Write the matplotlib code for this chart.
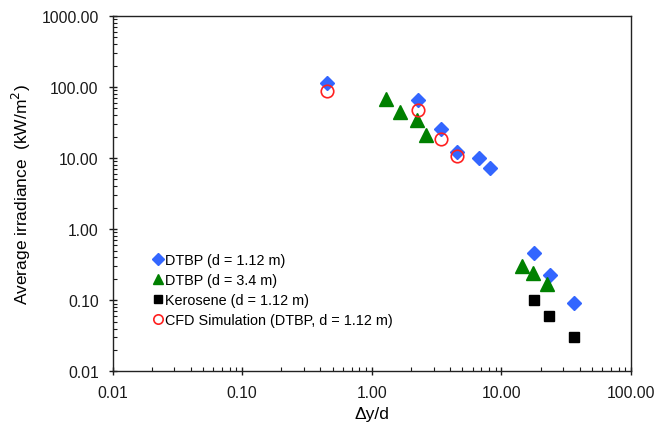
import matplotlib
matplotlib.use("Agg")
import matplotlib.pyplot as plt
from matplotlib.ticker import FixedLocator, FixedFormatter, LogLocator, NullFormatter

plt.rcParams['font.family'] = ['Liberation Sans', 'DejaVu Sans']

# Data
dtbp112_x = [0.45, 2.25, 3.43, 4.54, 6.73, 8.09, 17.8, 23.6, 36.1]
dtbp112_y = [115, 66, 25.6, 12.0, 10.0, 7.3, 0.46, 0.223, 0.091]

dtbp34_x = [1.29, 1.66, 2.24, 2.61, 14.4, 17.4, 22.4]
dtbp34_y = [68, 44, 34.7, 21.1, 0.30, 0.243, 0.17]

kero_x = [17.8, 23.4, 36.1]
kero_y = [0.10, 0.06, 0.030]

cfd_x = [0.447, 2.25, 3.4, 4.54]
cfd_y = [88.5, 47.3, 18.5, 10.6]

xticks = [0.01, 0.1, 1, 10, 100]
xticklabels = ["0.01", "0.10", "1.00", "10.00", "100.00"]
yticks = [0.01, 0.1, 1, 10, 100, 1000]
yticklabels = ["0.01", "0.10", "1.00", "10.00", "100.00", "1000.00"]

fig = plt.figure(figsize=(6.7, 4.31), dpi=100)
ax = fig.add_axes([0.168, 0.136, 0.774, 0.825])

ax.plot(dtbp112_x, dtbp112_y, linestyle='none', marker='D', markersize=7.5,
        color='#3366FF', markeredgecolor='#3366FF', label='DTBP (d = 1.12 m)', zorder=3)
ax.plot(dtbp34_x, dtbp34_y, linestyle='none', marker='^', markersize=10,
        color='#008000', markeredgecolor='#008000', label='DTBP (d = 3.4 m)', zorder=3)
ax.plot(kero_x, kero_y, linestyle='none', marker='s', markersize=7.5,
        color='black', label='Kerosene (d = 1.12 m)', zorder=3)
ax.plot(cfd_x, cfd_y, linestyle='none', marker='o', markersize=9,
        markerfacecolor='none', markeredgecolor='#FF2020', markeredgewidth=1.2,
        label='CFD Simulation (DTBP, d = 1.12 m)', zorder=4)

ax.set_xscale('log')
ax.set_yscale('log')
ax.set_xlim(0.01, 100)
ax.set_ylim(0.01, 1000)

ax.xaxis.set_major_locator(FixedLocator(xticks))
ax.xaxis.set_major_formatter(FixedFormatter(xticklabels))
ax.yaxis.set_major_locator(FixedLocator(yticks))
ax.yaxis.set_major_formatter(FixedFormatter(yticklabels))
ax.xaxis.set_minor_locator(LogLocator(base=10, subs=range(2, 10), numticks=20))
ax.yaxis.set_minor_locator(LogLocator(base=10, subs=range(2, 10), numticks=20))
ax.xaxis.set_minor_formatter(NullFormatter())
ax.yaxis.set_minor_formatter(NullFormatter())

ax.tick_params(which='major', direction='inout', length=6, width=1, labelsize=11.3,
               top=False, right=False, colors='#1a1a1a', pad=7)
ax.tick_params(which='minor', direction='in', length=3, width=0.8,
               top=False, right=False, colors='#1a1a1a')
for sp in ax.spines.values():
    sp.set_linewidth(1.0)
    sp.set_color('#222222')

ax.set_xlabel('\u0394y/d', fontsize=12.5, labelpad=4)
ax.set_ylabel('Average irradiance  (kW/m$^2$)', fontsize=12.5, labelpad=6)

leg = ax.legend(loc='lower left', bbox_to_anchor=(0.068, 0.108), frameon=False,
                fontsize=10.4, handlelength=0.6, handletextpad=0.2,
                labelspacing=0.42, markerscale=0.75, borderaxespad=0)

fig.savefig('out.png', dpi=100)
